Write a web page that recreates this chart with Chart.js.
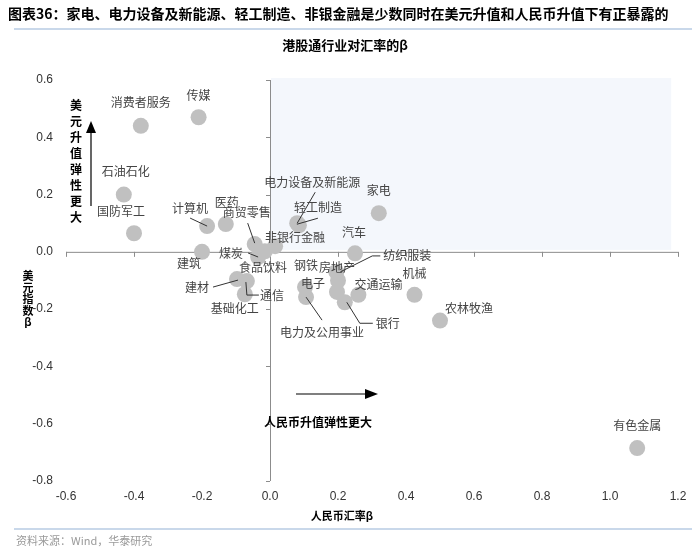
<!DOCTYPE html>
<html>
<head>
<meta charset="utf-8">
<script src="https://cdn.jsdelivr.net/npm/chart.js@4.4.1/dist/chart.umd.min.js"></script>
<style>
  html, body { margin: 0; padding: 0; background: #fff; }
  #wrap { width: 700px; height: 560px; }
</style>
</head>
<body>
<div id="wrap"><canvas id="chart" width="700" height="560"></canvas></div>
<script>
// 行业名称 / 人民币汇率β / 美元指数β
const industries = [
  "消费者服务", "传媒", "石油石化", "国防军工", "计算机", "医药", "建筑", "商贸零售",
  "煤炭", "食品饮料", "非银行金融", "钢铁", "电力设备及新能源", "轻工制造", "家电", "汽车",
  "纺织服装", "房地产", "机械", "交通运输", "电子", "电力及公用事业", "银行", "农林牧渔",
  "建材", "通信", "基础化工", "有色金属"
];
const rmbBeta = [
  -0.38, -0.21, -0.43, -0.40, -0.185, -0.13, -0.20, -0.045,
  -0.035, -0.015, 0.015, 0.197, 0.08, 0.085, 0.32, 0.25,
  0.195, 0.20, 0.425, 0.26, 0.103, 0.106, 0.22, 0.50,
  -0.097, -0.068, -0.074, 1.08
];
const usdBeta = [
  0.44, 0.47, 0.20, 0.065, 0.09, 0.097, 0.0, 0.027,
  -0.018, 0.002, 0.02, -0.14, 0.10, 0.093, 0.135, -0.005,
  -0.07, -0.10, -0.15, -0.15, -0.123, -0.158, -0.176, -0.24,
  -0.095, -0.102, -0.148, -0.685
];
const xTicksRange = [-0.6, 1.2];
const yTicksRange = [-0.8, 0.6];

// label placement relative to each point (pixels): [dx, dy, leader line]
const labelPos = {
  "消费者服务": [0, -23], "传媒": [0, -22], "石油石化": [2, -23], "国防军工": [-13, -22],
  "计算机": [-17, -18, [[-17, -8], [0, 0]]],
  "医药": [1, -22], "建筑": [-13, 12],
  "商贸零售": [-8, -32, [[-7, -21], [0, -1]]],
  "煤炭": [-27, -4, [[-10, -4], [0, 0]]],
  "食品饮料": [-2, 16], "非银行金融": [20, -9], "钢铁": [-31, -27],
  "电力设备及新能源": [15, -41, [[18, -31], [0, 0]]],
  "轻工制造": [19, -18, [[19, -7], [-2, -1]]],
  "家电": [0, -23], "汽车": [-1, -21],
  "纺织服装": [71, -16, [[44, -16], [36, -16], [4, 0]]],
  "房地产": [-1, -13], "机械": [0, -21], "交通运输": [20, -10], "电子": [8, -4],
  "电力及公用事业": [16, 35, [[16, 23], [0, 0]]],
  "银行": [43, 21, [[28, 21], [15, 21], [2, 0]]],
  "农林牧渔": [29, -12],
  "建材": [-40, 8, [[-24, 8], [1, 1]]],
  "通信": [25, 14, [[-1, 1], [0, 14], [12, 14]]],
  "基础化工": [-10, 14], "有色金属": [0, -23]
};

const CJK = '"Noto Sans CJK SC", sans-serif';

const decorPlugin = {
  id: "decor",
  beforeDatasetsDraw(chart) {
    const { ctx, scales: { x, y } } = chart;
    ctx.save();
    // shaded quadrant
    ctx.fillStyle = "#f4f7fc";
    const x0 = x.getPixelForValue(0), y0 = y.getPixelForValue(0);
    ctx.fillRect(x0 + 1, y.getPixelForValue(0.6) - 2, x.getPixelForValue(1.18) - x0 - 1, y0 - y.getPixelForValue(0.6));
    // axes crossing at zero
    ctx.strokeStyle = "#8c8c8c";
    ctx.lineWidth = 1;
    ctx.beginPath();
    ctx.moveTo(x.left, y0 + 0.5); ctx.lineTo(x.right, y0 + 0.5);
    ctx.moveTo(x0 + 0.5, y.top); ctx.lineTo(x0 + 0.5, y.bottom);
    x.ticks.forEach(t => {
      const px = Math.round(x.getPixelForValue(t.value)) + 0.5;
      ctx.moveTo(px, y0); ctx.lineTo(px, y0 + 5);
    });
    y.ticks.forEach(t => {
      const py = Math.round(y.getPixelForValue(t.value)) + 0.5;
      ctx.moveTo(x0 - 4, py); ctx.lineTo(x0, py);
    });
    ctx.stroke();
    ctx.restore();
  },
  afterDatasetsDraw(chart) {
    const { ctx, scales: { x, y } } = chart;
    ctx.save();
    // point labels
    ctx.font = "12px " + CJK;
    ctx.fillStyle = "#444";
    ctx.strokeStyle = "#333";
    ctx.lineWidth = 1;
    ctx.textAlign = "center";
    ctx.textBaseline = "middle";
    industries.forEach((name, i) => {
      const px = x.getPixelForValue(rmbBeta[i]);
      const py = y.getPixelForValue(usdBeta[i]);
      const lp = labelPos[name] || [0, -22];
      ctx.fillText(name, px + lp[0], py + lp[1]);
      if (lp[2]) {
        ctx.beginPath();
        lp[2].forEach((p, k) => k ? ctx.lineTo(px + p[0], py + p[1]) : ctx.moveTo(px + p[0], py + p[1]));
        ctx.stroke();
      }
    });

    // arrows
    ctx.fillStyle = "#000";
    ctx.strokeStyle = "#000";
    ctx.lineWidth = 1.2;
    ctx.beginPath(); ctx.moveTo(91, 206); ctx.lineTo(91, 131); ctx.stroke();
    ctx.beginPath(); ctx.moveTo(91, 121); ctx.lineTo(86, 133); ctx.lineTo(96, 133); ctx.closePath(); ctx.fill();
    ctx.beginPath(); ctx.moveTo(296, 394); ctx.lineTo(366, 394); ctx.stroke();
    ctx.beginPath(); ctx.moveTo(378, 394); ctx.lineTo(365, 389); ctx.lineTo(365, 399); ctx.closePath(); ctx.fill();

    ctx.font = "bold 12px " + CJK;
    "美元升值弹性更大".split("").forEach((c, k) => ctx.fillText(c, 76, 105 + k * 16));
    ctx.fillText("人民币升值弹性更大", 318, 422);

    // axis titles
    ctx.font = "bold 11px " + CJK;
    ctx.fillText("人民币汇率β", 342, 516);
    "美元指数β".split("").forEach((c, k) => ctx.fillText(c, 28, 276 + k * 11.5));

    // header / footer
    ctx.textAlign = "left";
    ctx.font = "bold 14px " + CJK;
    ctx.fillText("图表36：家电、电力设备及新能源、轻工制造、非银金融是少数同时在美元升值和人民币升值下有正暴露的", 8, 14);
    ctx.textAlign = "center";
    ctx.font = "bold 13px " + CJK;
    ctx.fillText("港股通行业对汇率的β", 345, 45);
    ctx.strokeStyle = "#b7cbe3";
    ctx.lineWidth = 1.5;
    ctx.beginPath(); ctx.moveTo(14, 29); ctx.lineTo(692, 29); ctx.stroke();
    ctx.beginPath(); ctx.moveTo(14, 529); ctx.lineTo(692, 529); ctx.stroke();
    ctx.textAlign = "left";
    ctx.font = "11px " + CJK;
    ctx.fillStyle = "#9a9a9a";
    ctx.fillText("资料来源：Wind，华泰研究", 16, 541);
    ctx.restore();
  }
};

const fmt = v => (Math.abs(v) < 1e-9 ? "0.0" : v.toFixed(1));

new Chart(document.getElementById("chart"), {
  type: "scatter",
  data: {
    datasets: [{
      data: industries.map((n, i) => ({ x: rmbBeta[i], y: usdBeta[i] })),
      backgroundColor: "#c0c0c0",
      borderWidth: 0,
      pointRadius: 8,
      pointHoverRadius: 8
    }]
  },
  options: {
    responsive: false,
    animation: false,
    layout: { padding: { left: 0, right: 22, top: 80, bottom: 49 } },
    plugins: { legend: { display: false }, tooltip: { enabled: false } },
    scales: {
      x: {
        min: xTicksRange[0], max: xTicksRange[1],
        grid: { display: false, drawTicks: false },
        border: { display: false },
        ticks: { stepSize: 0.2, padding: 8, color: "#333", font: { family: "Liberation Sans", size: 12 }, callback: fmt, maxRotation: 0 },
        afterFit: s => { s.height = 30; }
      },
      y: {
        min: yTicksRange[0], max: yTicksRange[1],
        grid: { display: false, drawTicks: false },
        border: { display: false },
        ticks: { stepSize: 0.2, padding: 13, color: "#333", font: { family: "Liberation Sans", size: 12 }, callback: fmt },
        afterFit: s => { s.width = 66; }
      }
    }
  },
  plugins: [decorPlugin]
});
</script>
</body>
</html>
